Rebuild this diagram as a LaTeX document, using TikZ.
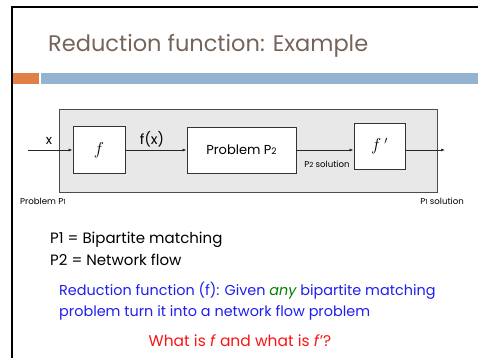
\documentclass[tikz,border=0pt]{standalone}
\usepackage{fontspec}
\setmainfont{Poppins}
\usetikzlibrary{arrows.meta,positioning}
\definecolor{titlecolor}{RGB}{117,100,90}
\definecolor{barorange}{RGB}{224,128,70}
\definecolor{barblue}{RGB}{148,179,208}
\definecolor{framegray}{RGB}{232,232,232}
\definecolor{noteblue}{RGB}{30,30,240}
\definecolor{notegreen}{RGB}{0,130,0}
\definecolor{notered}{RGB}{250,20,20}
\tikzset{
  stage/.style={draw=black!80,fill=white,line width=0.9pt,inner sep=0pt},
  flow/.style={-{Latex[length=4pt,width=3pt]},black!85,line width=0.7pt},
  tiny/.style={font=\fontsize{8.6}{9}\selectfont,inner sep=0pt},
}
\newcommand{\sm}[1]{{\fontsize{7}{7}\selectfont #1}}
\begin{document}
\begin{tikzpicture}[x=1pt,y=-1pt]
        \useasboundingbox (0,0) rectangle (478,358);
        % Slide frame and bars
        \draw[line width=2.4pt] (12,358) -- (12,7) -- (478,7);
        \fill[barorange] (13,73) rectangle (39,84);
        \fill[barblue]   (41,73) rectangle (478,84);
        \node[anchor=base west,inner sep=0pt,titlecolor,font=\fontsize{22.5}{26}\selectfont]
          (title) at (48,52) {Reduction function: Example};
        % Reduction frame
        \node[draw=black!70,fill=framegray,line width=0.9pt,minimum width=378pt,minimum height=83pt]
          (frame) at (248,150.5) {};
        \node[stage,minimum width=52pt,minimum height=47pt] (f) at (99,150) {\fontsize{16}{16}\selectfont$f$};
        \node[stage,minimum width=109pt,minimum height=46pt] (ptwo) at (241.5,150)
          {\fontsize{13}{13}\selectfont Problem P{\fontsize{9}{9}\selectfont 2}};
        \node[stage,minimum width=51pt,minimum height=46pt] (fp) at (379.5,146) {\fontsize{16}{16}\selectfont$f\,'$};
        \coordinate (in)  at (28,150);
        \coordinate (out) at (445,150);
        % Arrows
        \draw[flow] (in) -- (f.west);
        \draw[flow] (f.east) -- (ptwo.west);
        \draw[flow] (ptwo.east) -- (ptwo.east -| fp.west);
        \draw[flow] (fp.east |- out) -- (out);
        % Labels
        \node[anchor=base,inner sep=0pt,font=\fontsize{13}{13}\selectfont] (xlab) at (49,145) {x};
        \node[anchor=base,inner sep=0pt,font=\fontsize{14}{14}\selectfont] (fxlab) at (152,145) {f(x)};
        \node[tiny,anchor=base] (ptwosol) at (327,167) {P\sm{2} solution};
        \node[tiny,anchor=base west] (pone) at (20,204) {Problem P\sm{1}};
        \node[tiny,anchor=base east] (ponesol) at (464,204) {P\sm{1} solution};
        % Notes (base = last line)
        \node[anchor=base west,inner sep=0pt,font=\fontsize{15}{22}\selectfont,align=left]
          (defs) at (50,265) {P1 = Bipartite matching\\P2 = Network flow};
        \node[anchor=base west,inner sep=0pt,font=\fontsize{14.4}{20.7}\selectfont,align=left,noteblue]
          (goal) at (59,316.5) {Reduction function (f): Given \textcolor{notegreen}{\itshape any} bipartite matching\\problem turn it into a network flow problem};
        \node[anchor=base,inner sep=0pt,font=\fontsize{15.5}{16}\selectfont,notered]
          (ask) at (240,346) {What is \textit{f} and what is \textit{f}'?};
      \end{tikzpicture}
\end{document}
